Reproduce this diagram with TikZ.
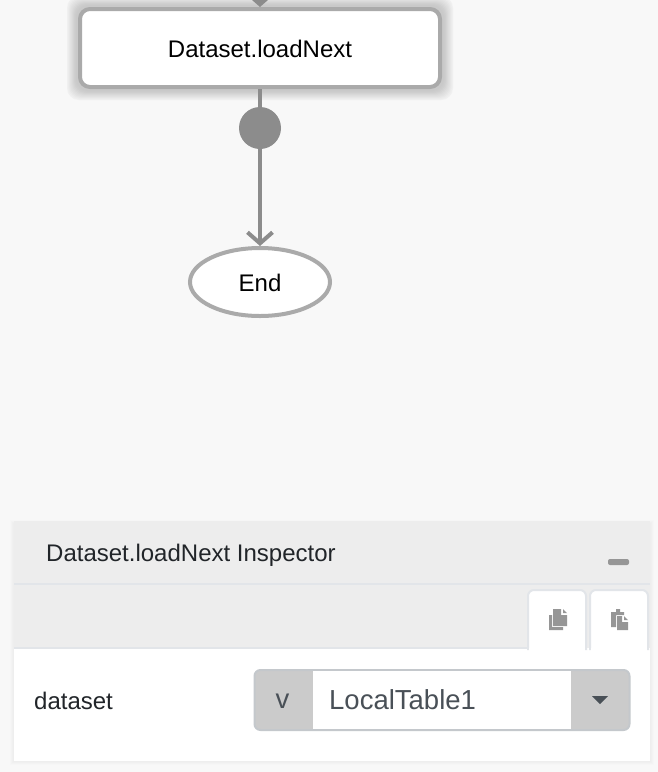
\documentclass[tikz,border=0pt]{standalone}
\usepackage{fontspec}
\setmainfont{Liberation Sans}
\usetikzlibrary{arrows.meta,positioning,shapes}
\definecolor{my_page}{RGB}{248, 248, 248}
\definecolor{my_stroke}{RGB}{170, 170, 170}
\definecolor{my_flow}{RGB}{140, 140, 140}
\definecolor{my_header}{RGB}{237, 237, 237}
\definecolor{my_rule}{RGB}{226, 229, 233}
\definecolor{my_addon}{RGB}{203, 203, 203}
\definecolor{my_border}{RGB}{196, 200, 204}
\definecolor{my_ink}{RGB}{33, 37, 41}
\definecolor{my_field}{RGB}{73, 80, 87}
\definecolor{my_icon}{RGB}{150, 150, 150}
\tikzset{
  flow_node/.style = {align=center, draw=my_stroke, fill=white, line width=4pt, text=black, text height=19pt, text depth=0pt, font=\fontsize{24}{28}\selectfont},
  flow_box/.style = {flow_node, rectangle, rounded corners=10pt, minimum width=360pt, minimum height=78pt},
  flow_end/.style = {flow_node, ellipse, inner sep=0pt, minimum width=140pt, minimum height=68pt},
  flow_dot/.style = {circle, fill=my_flow, inner sep=0pt, minimum size=42pt},
  flow_line/.style = {draw=my_flow, line width=4pt},
  panel_text/.style = {anchor=west, inner sep=0pt, text=my_ink, font=\fontsize{24}{28}\selectfont},
  field_text/.style = {inner sep=0pt, text=my_field, font=\fontsize{27.5}{32}\selectfont},
  tab_box/.style = {draw=my_rule, fill=white, line width=2pt, rounded corners=6pt}
}
\begin{document}
\begin{tikzpicture}[x=1pt,y=-1pt,>={Straight Barb[length=11pt,width=25pt]}]
  \useasboundingbox (0,0) rectangle (658,772);
  \clip (0,0) rectangle (658,772);
  \fill[my_page] (0,0) rectangle (658,772);
  % glow round the selected box
  \foreach \grow/\shade in {13/10,12/16,11/22,10/28,9/34,8/40,7/46,6/52,5/56,4/60}
    \fill[my_stroke!\shade!my_page, rounded corners=12pt]
      (80-\grow,9-\grow) rectangle (440+\grow,87+\grow);
  \node [flow_box] (loadnext) at (260,48) {Dataset.loadNext};
  \node [flow_dot] (handle) at (260,128) {};
  \node [flow_end] (finish) at (260,282) {End};
  \coordinate (above) at (260,-30);
  \draw [flow_line,->] (above) -- (loadnext);
  \draw [flow_line] (loadnext) -- (handle);
  \draw [flow_line,->] (handle) -- (finish);
  % inspector panel
  \foreach \grow/\shade in {4/1,3/2,2/3,1/4}
    \fill[black!\shade!my_page]
      (14-\grow,524-\grow) rectangle (650+\grow,761+\grow);
  \fill[white] (14,521) rectangle (650,761);
  \fill[my_header] (14,521) rectangle (650,648);
  \draw[my_rule, line width=2pt] (14,584) -- (650,584);
  \draw[my_rule, line width=2pt] (14,648) -- (528,648);
  \node [panel_text] (title) at (46,555) {Dataset.loadNext Inspector};
  \fill[my_icon, rounded corners=2pt] (608,559) rectangle (629,565);
  % copy and paste tabs
  \draw[tab_box] (528,650) -- (528,590) -- (586,590) -- (586,650);
  \draw[tab_box] (590,650) -- (590,590) -- (648,590) -- (648,650);
  \fill[white] (529,648) rectangle (585,652);
  \fill[white] (591,648) rectangle (647,652);
  \fill[my_icon] (549,615) -- (552,615) -- (552,627) -- (563,627) -- (563,630) -- (549,630) -- cycle;
  \fill[my_icon] (553,609) -- (561,609) -- (561,615) -- (567,615) -- (567,626) -- (553,626) -- cycle;
  \fill[my_icon] (563,609) -- (567,613) -- (563,613) -- cycle;
  \fill[my_icon] (611,612) -- (616,612) -- (616,609) -- (620,609) -- (620,612) -- (624,612) -- (624,615) -- (616,615) -- (616,627) -- (611,627) -- cycle;
  \fill[my_icon] (617,616) -- (622,616) -- (622,622) -- (628,622) -- (628,630) -- (617,630) -- cycle;
  \fill[my_icon] (624,616) -- (628,620) -- (624,620) -- cycle;
  % dataset row
  \node [panel_text] (dataset) at (34,701) {dataset};
  \node [draw=my_border, fill=my_addon, line width=2pt, rounded corners=6pt, minimum width=375pt, minimum height=60pt, inner sep=0pt] (select) at (442,700) {};
  \node [fill=white, inner sep=0pt, minimum width=258pt, minimum height=58pt] (field) at (441.5,700) {};
  \node [field_text, anchor=west] (value) at (329,700) {LocalTable1};
  \node [field_text] (varflag) at (282.5,701) {v};
  \fill[my_field] (592,696) -- (608,696) -- (600,704) -- cycle;
\end{tikzpicture}
\end{document}
